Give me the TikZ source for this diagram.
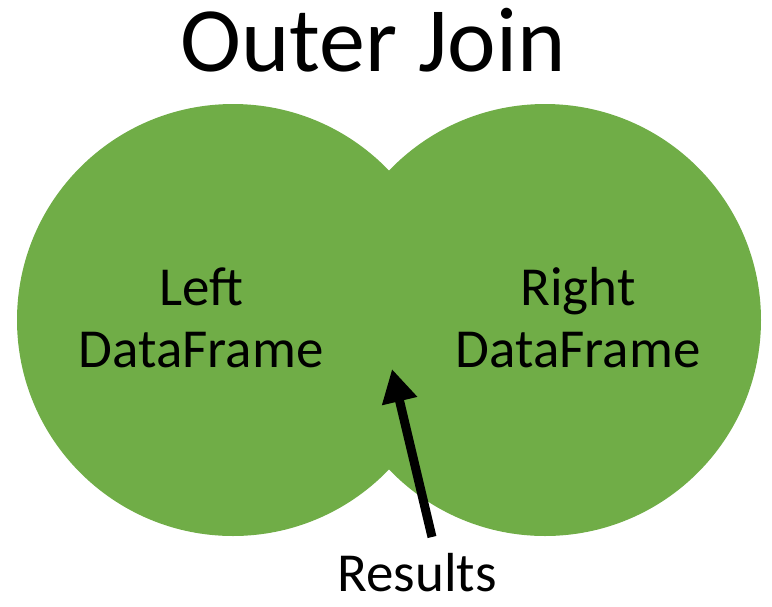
\documentclass[tikz,border=0pt]{standalone}
\usepackage{fontspec}
\setmainfont{Carlito}
\usetikzlibrary{arrows.meta}
\definecolor{vgreen}{HTML}{70AD47}
\tikzset{
  setc/.style={circle, fill=vgreen, draw=none, minimum size=432pt, inner sep=0pt},
  lbl/.style={align=center, font=\fontsize{55}{62}\selectfont, anchor=base, inner sep=0pt},
  pointer/.style={line width=9pt, -{Triangle[width=34pt,length=33pt]}}
}
\begin{document}
\begin{tikzpicture}[x=1pt,y=-1pt]
\useasboundingbox (0,0) rectangle (772,606);
\node[setc] (left) at (233,320) {};
\node[setc] (right) at (545,320) {};
\node[font=\fontsize{92}{100}\selectfont, anchor=base, inner sep=0pt] (title) at (373,71) {Outer Join};
\node[lbl] (ltxt1) at (201,305) {Left};
\node[lbl] (ltxt2) at (201,367) {DataFrame};
\node[lbl] (rtxt1) at (578,305) {Right};
\node[lbl] (rtxt2) at (578,367) {DataFrame};
\node[lbl] (res) at (417,591) {Results};
\coordinate (tail) at (432,537);
\coordinate (tip) at (392,369);
\draw[pointer] (tail) -- (tip);
\end{tikzpicture}
\end{document}
